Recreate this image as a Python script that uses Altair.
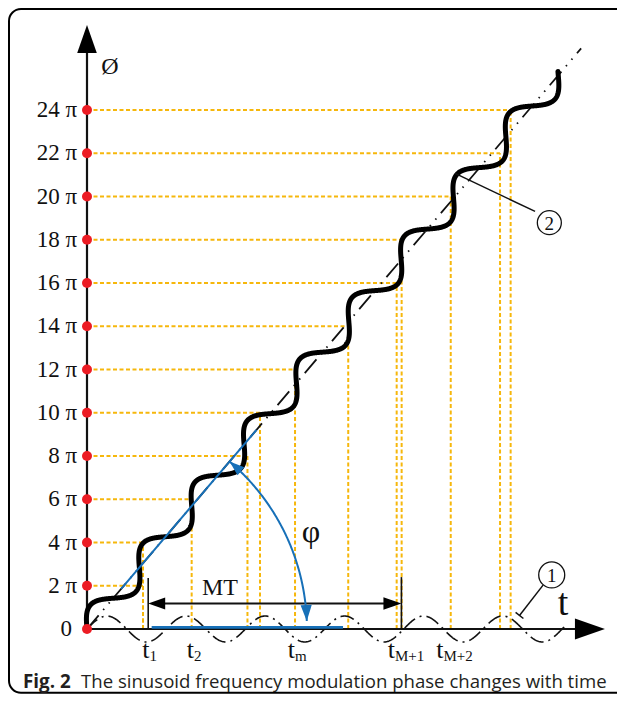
import numpy as np
import pandas as pd
import altair as alt

# ------------------------------------------------------------------ data
# phase levels on the vertical axis (multiples of pi)
levels = [2, 4, 6, 8, 10, 12, 14, 16, 18, 20, 22, 24]
level_labels = ["2 π", "4 π", "6 π", "8 π", "10 π", "12 π", "14 π",
                "16 π", "18 π", "20 π", "22 π", "24 π"]
# time at which the guide lines of each level meet the curve
level_t = [2.59, 2.59, 4.84, 7.42, 8.00, 9.62, 12.08, 14.32, 14.55,
           16.82, 19.10, 19.59]

# mean phase line (dash-dot)
diag_slope = 1.175
diag_t_end = 22.85

# phase curve (2): sinusoid wound around the mean phase line
curve_wavelength = 3.736
curve_amplitude = 0.60
curve_length = 33.75

# modulating sinusoid (1) along the time axis
mod_period = 3.662
mod_amplitude = 0.60
mod_t_end = 22.2

# time labels
t_names = ["1", "2", "m", "M+1", "M+2"]
t_label_pos = [2.89, 4.95, 9.62, 14.24, 16.48]

# MT interval
mt_t = [2.83, 14.54]
mt_level = 1.18
mt_marker_top = [2.36, 2.40]

# construction of the angle phi
blue_diag_t = [1.58, 7.84]
blue_base_t = [2.99, 11.84]
arc_radius = 10.17
arc_deg = [2.1, 49.6]

y_arrow_tip = 27.93
x_arrow_tip = 23.95

caption_bold = "Fig. 2"
caption_text = "The sinusoid frequency modulation phase changes with time"

# ------------------------------------------------------------------ layout
PX = 21.625                      # pixels per data unit (both axes)
W, H = 609, 686
OX, OY = 79.0, 621.0             # origin inside the svg
x_dom = [-OX / PX, (W - OX) / PX]
y_dom = [-(H - OY) / PX, OY / PX]

ORANGE = "#F6B70C"
RED = "#EC1C24"
BLUE = "#1770B8"
INK = "#111111"
SERIF = "Liberation Serif"
ARROW = "M0,0L-0.35,1L0.35,1Z"

xs = alt.Scale(domain=x_dom, nice=False, zero=False)
ys = alt.Scale(domain=y_dom, nice=False, zero=False)


def X(f):
    return alt.X(f, type="quantitative", scale=xs, axis=None)


def Y(f):
    return alt.Y(f, type="quantitative", scale=ys, axis=None)


def px(v):
    return v / PX


theta = np.arctan(diag_slope)

layers = []

# frame (open on the right, as in the picture)
frame = pd.DataFrame({"x": [x_dom[0] + px(1.0)], "x2": [x_dom[1] + px(60)],
                      "y": [y_dom[1] - px(1.0)], "y2": [y_dom[0] + px(1.2)]})
layers.append(alt.Chart(frame).mark_rect(fillOpacity=0, stroke="black", strokeWidth=2,
                                         cornerRadius=12)
              .encode(x=X("x"), x2="x2", y=Y("y"), y2="y2"))

# orange guides
g = pd.DataFrame({"lv": levels, "t": level_t, "zero": 0.0})
layers.append(alt.Chart(g).mark_rule(color=ORANGE, strokeWidth=2, strokeDash=[4, 2.5])
              .encode(x=X("zero"), x2="t", y=Y("lv")))
layers.append(alt.Chart(g).mark_rule(color=ORANGE, strokeWidth=2, strokeDash=[4, 2.5])
              .encode(x=X("t"), y=Y("zero"), y2="lv"))

# dash-dot mean line
diag = pd.DataFrame({"x": [0.0, diag_t_end], "y": [0.0, diag_slope * diag_t_end]})
layers.append(alt.Chart(diag).mark_line(color=INK, strokeWidth=1.8,
                                        strokeDash=[18, 7, 1.5, 7, 1.5, 7])
              .encode(x=X("x"), y=Y("y")))

# modulating sinusoid on the time axis
tm = np.linspace(0, mod_t_end, 700)
mod = pd.DataFrame({"x": tm, "y": mod_amplitude * np.sin(2 * np.pi * tm / mod_period),
                    "i": np.arange(len(tm))})
layers.append(alt.Chart(mod).mark_line(color=INK, strokeWidth=1.6, strokeDash=[14, 5, 2, 5])
              .encode(x=X("x"), y=Y("y"), order="i:Q"))

# axes lines
axes = pd.DataFrame({"x": [0.0, 0.0], "x2": [0.0, x_arrow_tip - px(15)],
                     "y": [0.0, 0.0], "y2": [y_arrow_tip - px(14), 0.0]})
layers.append(alt.Chart(axes).mark_rule(color=INK, strokeWidth=2.2)
              .encode(x=X("x"), x2="x2", y=Y("y"), y2="y2"))

# phase curve
s = np.linspace(0, curve_length, 2000)
d = curve_amplitude * np.sin(2 * np.pi * s / curve_wavelength)
cur = pd.DataFrame({"x": s * np.cos(theta) - d * np.sin(theta),
                    "y": s * np.sin(theta) + d * np.cos(theta),
                    "i": np.arange(len(s))})
layers.append(alt.Chart(cur).mark_line(color="black", strokeWidth=5, strokeCap="round",
                                       strokeJoin="round")
              .encode(x=X("x"), y=Y("y"), order="i:Q"))

# MT markers and arrow line
mk = pd.DataFrame({"x": mt_t, "top": mt_marker_top, "zero": 0.0})
layers.append(alt.Chart(mk).mark_rule(color=INK, strokeWidth=1.6)
              .encode(x=X("x"), y=Y("zero"), y2="top"))
mtl = pd.DataFrame({"x": [mt_t[0] + px(8)], "x2": [mt_t[1] - px(8)], "y": [mt_level]})
layers.append(alt.Chart(mtl).mark_rule(color=INK, strokeWidth=1.8)
              .encode(x=X("x"), x2="x2", y=Y("y")))

# blue construction
bd = pd.DataFrame({"x": blue_diag_t, "y": [diag_slope * t for t in blue_diag_t]})
layers.append(alt.Chart(bd).mark_line(color=BLUE, strokeWidth=2).encode(x=X("x"), y=Y("y")))
bb = pd.DataFrame({"x": [blue_base_t[0]], "x2": [blue_base_t[1]], "y": [px(1.6)]})
layers.append(alt.Chart(bb).mark_rule(color=BLUE, strokeWidth=2.6)
              .encode(x=X("x"), x2="x2", y=Y("y")))
aa = np.radians(np.linspace(arc_deg[0], arc_deg[1], 120))
arc = pd.DataFrame({"x": arc_radius * np.cos(aa), "y": arc_radius * np.sin(aa),
                    "i": np.arange(len(aa))})
layers.append(alt.Chart(arc).mark_line(color=BLUE, strokeWidth=2)
              .encode(x=X("x"), y=Y("y"), order="i:Q"))

# leader lines for (1) and (2)
c1 = (21.49, 2.50)
c2 = (21.38, 18.79)
lead = pd.DataFrame({
    "x": [21.09, 19.82, 17.02],
    "y": [2.03, 0.772, 21.07],
    "x2": [20.00, 20.18, 20.72],
    "y2": [0.624, 0.486, 19.31],
})
layers.append(alt.Chart(lead).mark_rule(color=INK, strokeWidth=1.5)
              .encode(x=X("x"), x2="x2", y=Y("y"), y2="y2"))

# red dots on the phase axis
dots = pd.DataFrame({"y": [0] + levels, "x": 0.0})
layers.append(alt.Chart(dots).mark_circle(color=RED, size=100, opacity=1)
              .encode(x=X("x"), y=Y("y")))

# arrow heads
rad = np.radians(arc_deg)
heads = pd.DataFrame({
    "x": [0.0, x_arrow_tip, mt_t[0], mt_t[1],
          arc_radius * np.cos(rad[1]), arc_radius * np.cos(rad[0])],
    "y": [y_arrow_tip, 0.0, mt_level, mt_level,
          arc_radius * np.sin(rad[1]), arc_radius * np.sin(rad[0])],
    "angle": [0, 90, 270, 90, 360 - arc_deg[1], 180 - arc_deg[0]],
    "size": [56 ** 2, 60 ** 2, 34 ** 2, 36 ** 2, 30 ** 2, 32 ** 2],
    "color": ["black", "black", "black", "black", BLUE, BLUE],
})
layers.append(alt.Chart(heads).mark_point(shape=ARROW, filled=True, opacity=1, strokeWidth=0)
              .encode(x=X("x"), y=Y("y"), angle=alt.Angle("angle:Q", scale=None),
                      size=alt.Size("size:Q", scale=None),
                      color=alt.Color("color:N", scale=None)))

# circled markers
circ = pd.DataFrame({"x": [c1[0], c2[0]], "y": [c1[1], c2[1]], "size": [26 ** 2, 24 ** 2],
                     "lab": ["1", "2"]})
layers.append(alt.Chart(circ).mark_point(shape="circle", filled=False, color=INK,
                                         strokeWidth=1.3, opacity=1)
              .encode(x=X("x"), y=Y("y"), size=alt.Size("size:Q", scale=None)))
layers.append(alt.Chart(circ).mark_text(font=SERIF, fontSize=19, color=INK, baseline="middle",
                                        dy=1)
              .encode(x=X("x"), y=Y("y"), text="lab:N"))

# tick labels
tl = pd.DataFrame({"y": levels, "lab": level_labels, "x": px(-10)})
layers.append(alt.Chart(tl).mark_text(font=SERIF, fontSize=23, color=INK, align="right",
                                      baseline="middle")
              .encode(x=X("x"), y=Y("y"), text="lab:N"))
zl = pd.DataFrame({"y": [0], "lab": ["0"], "x": px(-15)})
layers.append(alt.Chart(zl).mark_text(font=SERIF, fontSize=23, color=INK, align="right",
                                      baseline="middle")
              .encode(x=X("x"), y=Y("y"), text="lab:N"))

# time labels
tlab = pd.DataFrame({"x": t_label_pos, "y": px(-29), "t": "t", "sub": t_names})
layers.append(alt.Chart(tlab).mark_text(font=SERIF, fontSize=26, color=INK, align="right",
                                        baseline="alphabetic")
              .encode(x=X("x"), y=Y("y"), text="t:N"))
layers.append(alt.Chart(tlab).mark_text(font=SERIF, fontSize=15, color=INK, align="left",
                                        baseline="alphabetic", dy=3)
              .encode(x=X("x"), y=Y("y"), text="sub:N"))

# other labels
ol = pd.DataFrame({
    "x": [1.06, 22.01, 6.15, 10.36],
    "y": [25.99, 1.16, 1.90, 4.49],
    "lab": ["Ø", "t", "MT", "φ"],
    "fs": [24, 38, 24, 32],
})
layers.append(alt.Chart(ol).mark_text(font=SERIF, color=INK, baseline="middle")
              .encode(x=X("x"), y=Y("y"), text="lab:N", size=alt.Size("fs:Q", scale=None)))

# caption
cap = pd.DataFrame({"x": [px(23 - 87), px(81 - 87)], "y": px(629 - 688),
                    "lab": [caption_bold, caption_text], "w": ["bold", "normal"]})
layers.append(alt.Chart(cap[cap.w == "bold"]).mark_text(font="Open Sans", fontSize=18.8,
                                                        fontWeight="bold", color="#231f20",
                                                        align="left", baseline="alphabetic")
              .encode(x=X("x"), y=Y("y"), text="lab:N"))
layers.append(alt.Chart(cap[cap.w == "normal"]).mark_text(font="Open Sans", fontSize=18.6,
                                                          color="#231f20", align="left",
                                                          baseline="alphabetic")
              .encode(x=X("x"), y=Y("y"), text="lab:N"))

chart = (alt.layer(*layers)
         .properties(width=W, height=H, padding=0,
                     autosize=alt.AutoSizeParams(type="none"), background="white")
         .configure_view(stroke=None))

chart.save("out.html", embed_options={"renderer": "svg", "actions": False})
